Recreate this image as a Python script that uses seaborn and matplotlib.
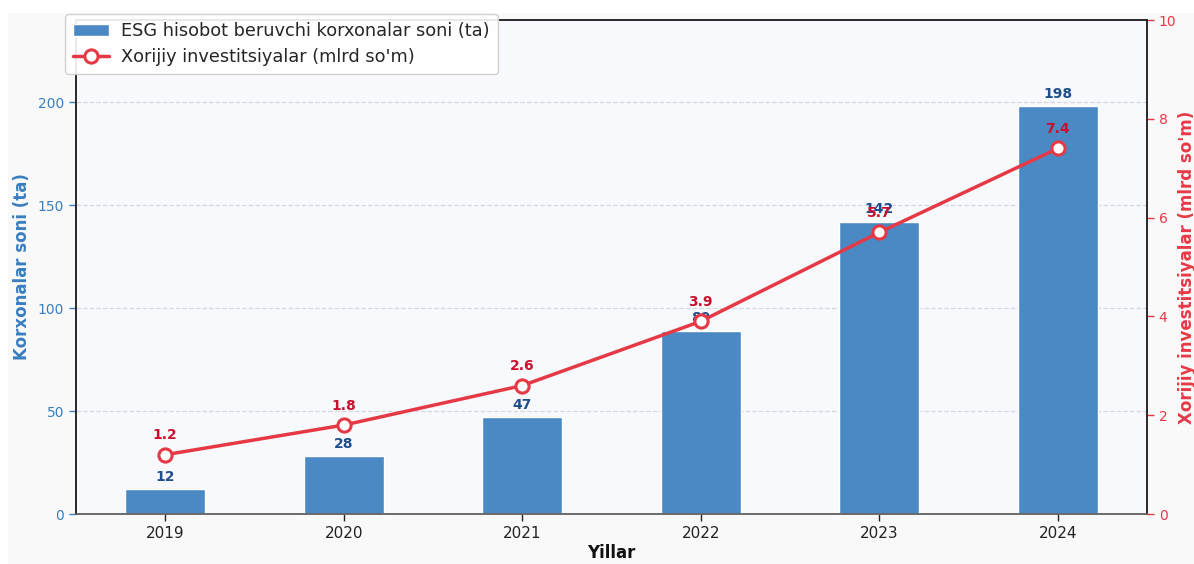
import matplotlib
matplotlib.use("Agg")
import matplotlib.pyplot as plt
from matplotlib.patches import Rectangle
import seaborn as sns
import numpy as np
import pandas as pd

years = ["2019", "2020", "2021", "2022", "2023", "2024"]
esg_companies = [12, 28, 47, 89, 142, 198]
foreign_invest = [1.2, 1.8, 2.6, 3.9, 5.7, 7.4]

bar_label = "ESG hisobot beruvchi korxonalar soni (ta)"
line_label = "Xorijiy investitsiyalar (mlrd so'm)"

sns.set_theme(style="white")
plt.rcParams['font.family'] = ['DejaVu Sans']

BAR_C = "#4a89c3"
LINE_C = "#e63946"
BAR_TXT = "#1f4e8c"
LINE_TXT = "#c8102e"

df = pd.DataFrame({"year": years, "esg": esg_companies, "inv": foreign_invest,
                   "pos": np.arange(len(years))})

fig = plt.figure(figsize=(11.94, 5.64), dpi=100, facecolor="white")
fig.patches.append(Rectangle((8/1194, 0), 1, 551/564, transform=fig.transFigure,
                             facecolor="#f9f9f9", edgecolor="none", zorder=-10))
ax = fig.add_axes([76/1194, 1-514/564, (1147-76)/1194, (514-20)/564])
ax.set_facecolor("#f8f9fc")

sns.barplot(data=df, x="year", y="esg", color=BAR_C, width=0.45, ax=ax,
            saturation=1, label=bar_label, zorder=2)
ax.set_xlim(-0.5, 5.5)
ax.set_ylim(0, 240)
ax.set_yticks([0, 50, 100, 150, 200])
ax.yaxis.grid(True, linestyle="--", color="#d5d8de", linewidth=0.9, zorder=0)
ax.set_axisbelow(True)
ax.tick_params(axis="y", colors="#3a7ebf", labelsize=10, length=5, width=1, left=True)
ax.tick_params(axis="x", labelsize=11, colors="#222222", length=5, width=1, bottom=True)
ax.set_xlabel("Yillar", fontsize=12, fontweight="bold", color="#111111", labelpad=2)
ax.set_ylabel("Korxonalar soni (ta)", fontsize=12, fontweight="bold", color="#3a7ebf",
              labelpad=5)

for i, v in enumerate(esg_companies):
    ax.annotate(str(v), (i, v), xytext=(0, 4), textcoords="offset points",
                ha="center", va="bottom", fontsize=10, fontweight="bold", color=BAR_TXT)

ax2 = ax.twinx()
sns.lineplot(data=df, x="pos", y="inv", ax=ax2, color=LINE_C, linewidth=2.5,
             marker="o", markersize=9.5, markerfacecolor="white",
             markeredgecolor=LINE_C, markeredgewidth=2.2, label=line_label, zorder=5)
ax2.set_ylim(0, 10)
ax2.set_xlim(-0.5, 5.5)
ax2.tick_params(axis="y", colors=LINE_C, labelsize=10, length=5, width=1, right=True)
ax2.set_ylabel(line_label, fontsize=12, fontweight="bold", color=LINE_C, labelpad=1)
ax2.grid(False)
for i, v in enumerate(foreign_invest):
    ax2.annotate(f"{v}", (i, v), xytext=(0, 9), textcoords="offset points",
                 ha="center", va="bottom", fontsize=10, fontweight="bold", color=LINE_TXT)

for a in (ax, ax2):
    for s in a.spines.values():
        s.set_color("#222222")
        s.set_linewidth(1.1)
ax.spines["bottom"].set_color("#666666")
ax2.spines["bottom"].set_color("#666666")

h1, l1 = ax.get_legend_handles_labels()
h2, l2 = ax2.get_legend_handles_labels()
if ax2.get_legend():
    ax2.get_legend().remove()
if ax.get_legend():
    ax.get_legend().remove()
leg = fig.legend(h1 + h2, l1 + l2, loc="upper left",
                 bbox_to_anchor=(65/1194, 1-14/564), borderaxespad=0, fontsize=12.8,
                 frameon=True, fancybox=True, framealpha=0.9,
                 edgecolor="#cccccc", facecolor="white",
                 borderpad=0.45, labelspacing=0.45, handlelength=2.0, handletextpad=0.7)

fig.savefig("out.png", dpi=100, facecolor=fig.get_facecolor())
